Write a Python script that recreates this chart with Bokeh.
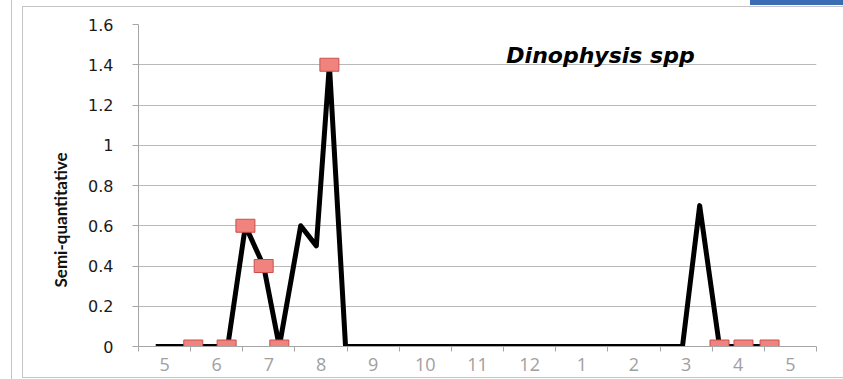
from bokeh.plotting import figure
from bokeh.models import Range1d, FixedTicker, Label, Title, InlineStyleSheet
from bokeh.embed import file_html
from bokeh.resources import INLINE

# ---- data ----
month_labels = ["5", "6", "7", "8", "9", "10", "11", "12", "1", "2", "3", "4", "5"]
month_centers = [0.5, 1.5, 2.5, 3.5, 4.5, 5.5, 6.5, 7.5, 8.5, 9.5, 10.5, 11.5, 12.5]
month_bounds = [0, 1, 2, 3, 4, 5, 6, 7, 8, 9, 10, 11, 12, 13]
y_ticks = [0, 0.2, 0.4, 0.6, 0.8, 1.0, 1.2, 1.4, 1.6]
y_tick_labels = ["0", "0.2", "0.4", "0.6", "0.8", "1", "1.2", "1.4", "1.6"]

line_x = [0.33, 1.05, 1.71, 2.05, 2.40, 2.70, 3.11, 3.41, 3.66, 3.97, 10.43, 10.76, 11.14, 11.60, 12.10]
line_y = [0, 0, 0, 0.6, 0.4, 0, 0.6, 0.5, 1.4, 0, 0, 0.7, 0, 0, 0]
marker_x = [1.05, 1.69, 2.05, 2.40, 2.70, 3.66, 11.14, 11.60, 12.10]
marker_y = [0, 0, 0.6, 0.4, 0, 1.4, 0, 0, 0]

title_text = "Dinophysis spp"
y_title = "Semi-quantitative"

AXIS_GREY = "#a6a6a6"
FRAME_L, FRAME_B = 138, 346   # canvas position of the plot frame's left / bottom

# page decoration: chart border, neighbouring chart border, blue bar
deco_css = """
:host::before {
  content: ""; position: absolute; left: 22px; top: 6px; width: 821px; height: 370px;
  border: 1px solid #c4c4c4; border-right: none; pointer-events: none; z-index: 5;
}
:host::after {
  content: ""; position: absolute; left: 0px; top: 0px; width: 843px; height: 379px;
  background-image: linear-gradient(#3c6cb4, #3c6cb4), linear-gradient(#c4c4c4, #c4c4c4);
  background-size: 93px 5px, 1px 379px;
  background-position: 750px 0px, 11px 0px;
  background-repeat: no-repeat; pointer-events: none; z-index: 5;
}
"""

p = figure(width=843, height=379, output_backend="svg", toolbar_location=None,
           x_range=Range1d(0, 13), y_range=Range1d(0, 1.6),
           min_border_left=138, min_border_right=27,
           min_border_top=24, min_border_bottom=33)
p.stylesheets = [InlineStyleSheet(css=deco_css)]
p.outline_line_color = None
p.background_fill_color = "white"
p.border_fill_color = "white"

p.xgrid.visible = False
p.ygrid.grid_line_color = "#b9b9b9"
p.ygrid.grid_line_width = 1
p.ygrid.ticker = FixedTicker(ticks=y_ticks)

# x axis
xa = p.xaxis[0]
xa.ticker = FixedTicker(ticks=month_centers, minor_ticks=month_bounds)
xa.major_label_overrides = {c: l for c, l in zip(month_centers, month_labels)}
xa.major_tick_out = 0
xa.major_tick_in = 0
xa.minor_tick_out = 5
xa.minor_tick_in = 0
xa.minor_tick_line_color = AXIS_GREY
xa.axis_line_color = AXIS_GREY
xa.major_label_text_font = "Open Sans"
xa.major_label_text_font_size = "18px"
xa.major_label_text_color = "#a0a0a0"
xa.major_label_standoff = 6

# y axis
ya = p.yaxis[0]
ya.ticker = FixedTicker(ticks=y_ticks)
ya.major_label_overrides = {t: l for t, l in zip(y_ticks, y_tick_labels)}
ya.major_tick_out = 6
ya.major_tick_in = 0
ya.minor_tick_out = 0
ya.minor_tick_in = 0
ya.major_tick_line_color = AXIS_GREY
ya.axis_line_color = AXIS_GREY
ya.major_label_text_font = "DejaVu Sans"
ya.major_label_text_font_size = "16px"
ya.major_label_text_color = "#1a1a1a"
ya.major_label_standoff = 19

# y title in the left panel, shifted down from centre as in the reference
p.add_layout(Title(text=y_title, align="left", offset=59, standoff=30,
                   text_font="Lato", text_font_style="bold", text_font_size="17px",
                   text_color="#111111"), "left")

# data
p.line(line_x, line_y, line_color="black", line_width=5, line_join="round")
p.rect(marker_x, marker_y, width=19, height=13, width_units="screen", height_units="screen",
       fill_color="#f0837e", line_color="#c9504c", line_width=1)

# title inside plot
p.add_layout(Label(x=600 - FRAME_L, y=FRAME_B - 55, x_units="screen", y_units="screen",
                   text=title_text, text_font="DejaVu Sans", text_font_style="bold italic",
                   text_font_size="22px", text_align="center", text_baseline="alphabetic",
                   text_color="black"))

open("out.html", "w").write(file_html(p, INLINE))
